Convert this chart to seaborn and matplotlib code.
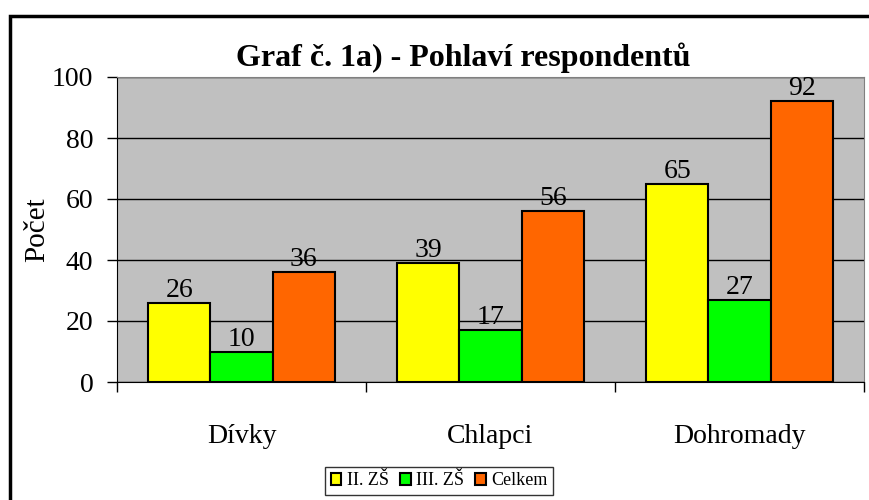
"""Graf c. 1a) - Pohlavi respondentu (Excel-style grouped bars)"""

import pandas as pd
import matplotlib.pyplot as plt
from matplotlib.patches import Rectangle
import seaborn as sns

categories = ["Dívky", "Chlapci", "Dohromady"]
series = ["II. ZŠ", "III. ZŠ", "Celkem"]
vals_ii = [26, 39, 65]
vals_iii = [10, 17, 27]
vals_total = [36, 56, 92]
colors = ["#FFFF00", "#00FF00", "#FF6600"]

df = pd.DataFrame({
    "Skupina": categories * 3,
    "Škola": [s for s in series for _ in categories],
    "Počet": vals_ii + vals_iii + vals_total,
})

sns.set_style("white")
plt.rcParams["font.family"] = ["Liberation Serif", "DejaVu Serif"]
plt.rcParams["text.color"] = "black"
plt.rcParams["axes.labelcolor"] = "black"
plt.rcParams["xtick.color"] = "black"
plt.rcParams["ytick.color"] = "black"

fig = plt.figure(figsize=(8.69, 5), dpi=100)
ax = fig.add_axes([117 / 869, 1 - 382 / 500, (864 - 117) / 869, (382 - 77) / 500])

sns.barplot(
    data=df,
    x="Skupina",
    y="Počet",
    hue="Škola",
    order=categories,
    hue_order=series,
    palette=colors,
    width=0.75,
    gap=0,
    saturation=1,
    edgecolor="black",
    linewidth=1.5,
    errorbar=None,
    ax=ax,
)

for cont in ax.containers:
    ax.bar_label(cont, fontsize=20, padding=0)

ax.set_facecolor("#C0C0C0")
ax.set_ylim(0, 100)
ax.set_xlim(-0.5, 2.5)
ax.set_yticks(range(0, 101, 20))
ax.yaxis.grid(True, color="black", linewidth=1)
ax.set_axisbelow(True)

ax.tick_params(axis="y", labelsize=20, length=7, width=1, direction="out", left=True, pad=10)
ax.tick_params(axis="x", which="major", labelsize=20, length=0, pad=30)
ax.set_xticks([-0.5, 0.5, 1.5, 2.5], minor=True)
ax.tick_params(axis="x", which="minor", length=7, width=1, direction="out", bottom=True)

ax.set_xlabel("")
ax.set_ylabel("Počet", fontsize=21, labelpad=1)
ax.set_title("Graf č. 1a) - Pohlaví respondentů", fontsize=23, fontweight="bold",
             x=(463 - 117) / 747, pad=8)

for side in ["left", "bottom"]:
    ax.spines[side].set_color("black")
for side in ["top", "right"]:
    ax.spines[side].set_color("#808080")

leg = ax.legend(
    loc="upper center",
    bbox_to_anchor=(439 / 869, 1 - 467 / 500),
    bbox_transform=fig.transFigure,
    borderaxespad=0,
    ncol=3,
    fontsize=13,
    frameon=True,
    fancybox=False,
    handlelength=0.6,
    handleheight=0.6,
    handletextpad=0.3,
    columnspacing=0.6,
    borderpad=0.3,
)
leg.get_frame().set_edgecolor("black")
leg.get_frame().set_linewidth(1)

# chart frame (only top and left edges fall inside the picture)
fig.patches.append(Rectangle((9.5 / 869, -0.2), 1.2, 1.2 - 15.5 / 500,
                             transform=fig.transFigure, fill=False,
                             edgecolor="black", linewidth=2.5, zorder=10))

plt.savefig("out.png", dpi=100)
